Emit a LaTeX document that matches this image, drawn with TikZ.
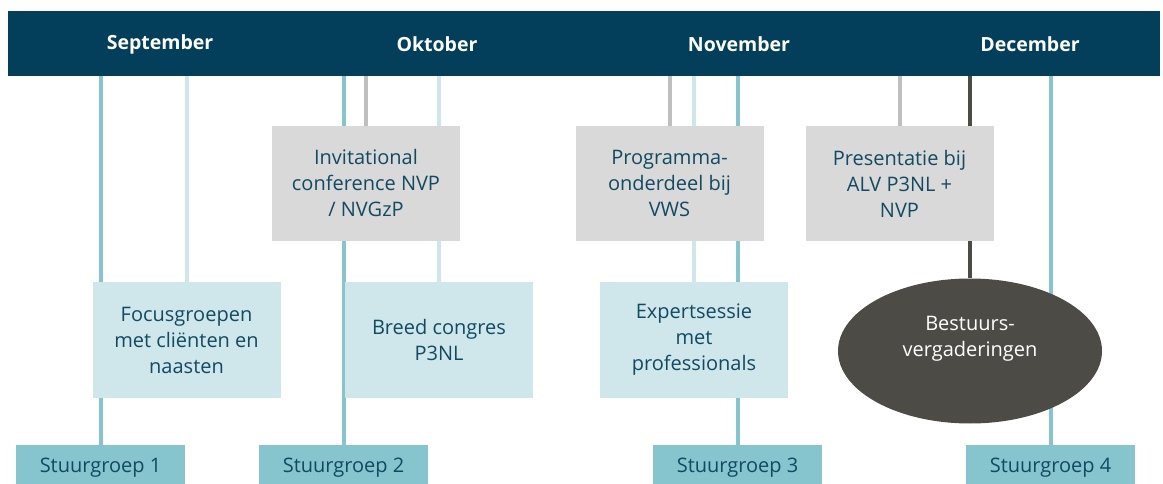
\documentclass[tikz,border=0pt]{standalone}
\usepackage{fontspec}
\setmainfont{Open Sans}
\usetikzlibrary{shapes,backgrounds,positioning}
\definecolor{navy}{HTML}{033F5A}
\definecolor{tealbox}{HTML}{86C4CE}
\definecolor{lightbox}{HTML}{CFE6EB}
\definecolor{greybox}{HTML}{D9D9D9}
\definecolor{greyline}{HTML}{BFBFBF}
\definecolor{boardgrey}{HTML}{4D4B46}
\definecolor{textblue}{HTML}{124A62}

\begin{document}
\begin{tikzpicture}[x=1pt,y=-1pt,
  every node/.style={align=center,inner sep=0pt,text=textblue,font=\fontsize{20}{26}\selectfont},
  month/.style={text=white,font=\fontsize{19.5}{22}\selectfont\bfseries},
  event/.style={fill=greybox,minimum width=188pt,minimum height=115pt},
  session/.style={fill=lightbox,minimum width=188pt,minimum height=116pt},
  steer/.style={fill=tealbox,minimum width=169pt,minimum height=40pt,text depth=0pt},
  board/.style={ellipse,fill=boardgrey,text=white,minimum width=264pt,minimum height=145pt,text depth=29pt},
  link/.style={line width=4pt},
  to steer/.style={link,tealbox},
  to session/.style={link,lightbox},
  to event/.style={link,greyline},
  to board/.style={link,boardgrey}]

    \useasboundingbox (0,0) rectangle (1163,484);

    \node[fill=navy,minimum width=1152pt,minimum height=65pt,anchor=north west](bar) at (8,11) {};
    \node[month](sep) at (160,44) {September};
    \node[month](okt) at (437,44) {Oktober};
    \node[month](nov) at (739,44) {November};
    \node[month](dec) at (1030,44) {December};

    \node[event](invit) at (366,183.5) {Invitational\\conference NVP\\/ NVGzP};
    \node[event](prog) at (669.5,183.5) {Programma-\\onderdeel bij\\VWS};
    \node[event](pres) at (899.5,183.5) {Presentatie bij\\ALV P3NL +\\NVP};

    \node[session](focus) at (186.5,340) {Focusgroepen\\met cliënten en\\naasten};
    \node[session](breed) at (439,340) {Breed congres\\P3NL};
    \node[session](expert) at (694,340) {Expertsessie\\met\\professionals};
    \node[board](bestuur) at (970,351) {Bestuurs-\\vergaderingen};

    \node[steer](sg1) at (100.5,465) {Stuurgroep 1};
    \node[steer](sg2) at (343.5,465) {Stuurgroep 2};
    \node[steer](sg3) at (737.5,465) {Stuurgroep 3};
    \node[steer](sg4) at (1050.5,465) {Stuurgroep 4};

    \begin{pgfonlayer}{background}
        \draw[to steer](sg1 |- bar.south) -- (sg1);
        \draw[to steer](sg2 |- bar.south) -- (sg2);
        \draw[to steer](sg3 |- bar.south) -- (sg3);
        \draw[to steer](sg4 |- bar.south) -- (sg4);
        \draw[to session](focus |- bar.south) -- (focus);
        \draw[to session](breed |- bar.south) -- (breed);
        \draw[to session](expert |- bar.south) -- (expert);
        \draw[to event](invit |- bar.south) -- (invit);
        \draw[to event](prog |- bar.south) -- (prog);
        \draw[to event](pres |- bar.south) -- (pres);
        \draw[to board](bestuur |- bar.south) -- (bestuur);
    \end{pgfonlayer}
\end{tikzpicture}
\end{document}
